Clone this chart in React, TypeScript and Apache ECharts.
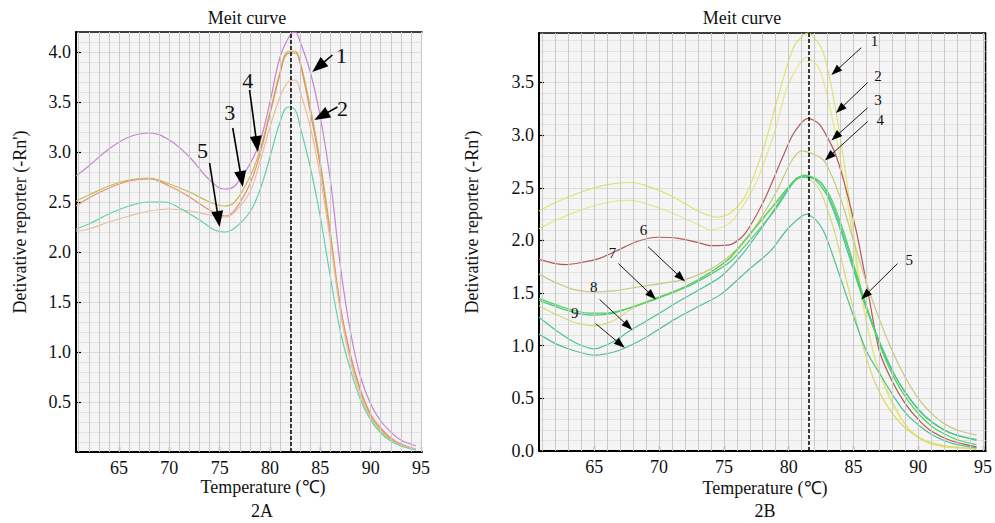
import React, { useEffect, useRef } from "react";
import * as echarts from "echarts";

const FONT = '"Liberation Serif", "Times New Roman", serif';

// ---------- Tick labels ----------
const xTickValues = [65, 70, 75, 80, 85, 90, 95];
const leftYTickValues = [0.5, 1.0, 1.5, 2.0, 2.5, 3.0, 3.5, 4.0];
const rightYTickValues = [0.0, 0.5, 1.0, 1.5, 2.0, 2.5, 3.0, 3.5];

// ---------- Melt temperatures (dashed lines) ----------
const leftMeltTemp = 82.05;
const rightMeltTemp = 81.55;

// ---------- Panel 2A curves [temperature, -Rn'] ----------
const leftCurve1 = [[60.73,2.76],[62,2.86],[64,3.03],[66,3.15],[68,3.19],[70,3.12],[72,2.95],[74,2.72],[75.5,2.63],[76.5,2.66],[78,2.88],[79,3.1],[80,3.5],[81,3.95],[82,4.17],[82.5,4.2],[83,4.1],[84,3.8],[85,3.35],[86,2.72],[87,1.85],[88,1.2],[89,0.75],[90,0.48],[91,0.31],[92,0.2],[93,0.12],[94.5,0.06]];
const leftCurve2 = [[60.73,2.51],[62,2.57],[64,2.66],[66,2.72],[68,2.74],[70,2.68],[72,2.6],[74,2.5],[75.5,2.46],[76.5,2.5],[78,2.75],[79,3.02],[80,3.4],[81,3.8],[81.7,4.0],[82.5,4.01],[83,3.9],[84,3.45],[85,2.9],[86,2.2],[87,1.45],[88,0.95],[89,0.6],[90,0.36],[91,0.22],[92,0.13],[93,0.07],[94.5,0.03]];
const leftCurve3 = [[60.73,2.46],[62,2.54],[64,2.64],[66,2.71],[68,2.73],[70,2.66],[72,2.55],[74,2.42],[75.5,2.36],[76.5,2.42],[78,2.68],[79,2.98],[80,3.38],[81,3.78],[81.7,3.98],[82.5,3.99],[83,3.88],[84,3.4],[85,2.85],[86,2.15],[87,1.45],[88,0.97],[89,0.62],[90,0.38],[91,0.24],[92,0.14],[93,0.08],[94.5,0.03]];
const leftCurve4 = [[60.73,2.21],[62,2.23],[64,2.3],[66,2.36],[68,2.41],[70,2.43],[72,2.41],[74,2.37],[75.5,2.35],[76.5,2.4],[78,2.6],[79,2.9],[80,3.25],[81,3.55],[81.8,3.7],[82.5,3.72],[83,3.6],[84,3.25],[85,2.75],[86,2.1],[87,1.4],[88,0.9],[89,0.56],[90,0.34],[91,0.2],[92,0.12],[93,0.07],[94.5,0.03]];
const leftCurve5 = [[60.73,2.23],[62,2.28],[64,2.38],[66,2.46],[68,2.5],[69.5,2.5],[71,2.44],[73,2.32],[74.5,2.22],[75.5,2.2],[76.5,2.24],[78,2.4],[79,2.62],[80,2.95],[81,3.3],[81.8,3.45],[82.5,3.42],[83,3.25],[84,2.85],[85,2.35],[86,1.75],[87,1.2],[88,0.82],[89,0.52],[90,0.32],[91,0.19],[92,0.11],[93,0.06],[94.5,0.02]];
const leftColors = ["#c883d2", "#cbb94e", "#e2906f", "#ebbd9c", "#63d2ab"];

// ---------- Panel 2B curves ----------
const rightCurve1 = [[60.73,2.28],[62,2.36],[64,2.46],[66,2.53],[67.7,2.55],[69,2.52],[71,2.42],[73,2.28],[74.5,2.22],[75.5,2.26],[76.6,2.41],[78,2.85],[79.1,3.33],[80.4,3.84],[81.5,3.97],[82.6,3.81],[83.5,3.33],[84.5,2.55],[85.5,1.6],[86.5,0.95],[87.5,0.6],[88.5,0.35],[89.5,0.18],[90.5,0.09],[92,0.04],[94.5,0.02]];
const rightCurve2 = [[60.73,2.11],[62,2.19],[64,2.29],[66,2.36],[67.7,2.38],[69,2.35],[71,2.26],[73,2.15],[74,2.1],[75.5,2.17],[77.3,2.5],[78.9,3.02],[79.9,3.46],[81.4,3.74],[82.4,3.62],[83.5,3.08],[84.5,2.4],[85.5,1.55],[86.5,0.95],[87.5,0.58],[88.5,0.34],[89.5,0.18],[90.5,0.1],[92,0.05],[94.5,0.02]];
const rightCurve3 = [[60.73,1.82],[62,1.78],[62.8,1.77],[64,1.79],[65.4,1.83],[66.7,1.9],[68.3,1.99],[69.9,2.03],[71.5,2.02],[73,1.98],[74,1.95],[75.5,1.96],[76.6,2.06],[78.1,2.38],[79.5,2.78],[80.4,3.02],[81.5,3.16],[82.4,3.1],[83.7,2.79],[85.2,2.1],[86.2,1.46],[87,0.95],[88,0.66],[89,0.45],[90,0.3],[91,0.19],[92.5,0.1],[94.5,0.04]];
const rightCurve4 = [[60.73,1.68],[62,1.6],[63.5,1.53],[65,1.51],[66.5,1.52],[68.5,1.56],[72,1.63],[74,1.73],[75.5,1.86],[77,2.05],[79,2.45],[80.2,2.75],[81,2.85],[82.7,2.76],[84,2.4],[85,2.0],[86,1.6],[87,1.25],[88,0.95],[89,0.7],[90,0.5],[91,0.36],[92,0.26],[93,0.2],[94.5,0.15]];
const rightCurve5 = [[60.73,1.43],[62.3,1.36],[64,1.3],[65,1.29],[66.5,1.31],[68,1.37],[69.7,1.44],[72,1.55],[74,1.68],[75.5,1.8],[77,2.0],[79,2.3],[80.5,2.57],[81.3,2.61],[82.5,2.55],[83.5,2.3],[84.5,1.95],[85.5,1.55],[86.5,1.2],[87.5,0.9],[88.5,0.65],[89.5,0.47],[90.5,0.33],[91.5,0.24],[92.5,0.17],[94.5,0.1]];
const rightCurve6 = [[60.73,1.38],[62,1.3],[63.5,1.22],[65,1.19],[66.5,1.24],[68,1.36],[69.5,1.44],[72,1.56],[74,1.7],[75.5,1.83],[77,2.05],[79,2.35],[80.5,2.58],[81.2,2.6],[82.3,2.5],[83.5,2.1],[84.5,1.6],[85.5,1.1],[86.5,0.7],[87.5,0.45],[88.5,0.28],[89.5,0.17],[90.5,0.1],[92,0.05],[94.5,0.02]];
const rightCurve7 = [[60.73,1.27],[62,1.15],[63.5,1.03],[65,0.97],[66.5,1.04],[67.7,1.14],[69.5,1.27],[71.5,1.42],[73.5,1.56],[74.8,1.66],[76.5,1.88],[78.5,2.22],[80,2.5],[81,2.6],[82,2.58],[83,2.42],[84,2.1],[85,1.72],[86,1.35],[87,1.03],[88,0.76],[89,0.56],[90,0.4],[91,0.28],[92,0.2],[93,0.15],[94.5,0.11]];
const rightCurve8 = [[60.73,1.11],[62,1.02],[63.5,0.95],[65.1,0.91],[66.5,0.94],[67.4,0.98],[69,1.08],[71.2,1.25],[73,1.37],[74.8,1.49],[76.8,1.71],[78.6,1.9],[80,2.12],[81.4,2.25],[82.2,2.18],[82.9,2.03],[84.5,1.46],[86,0.95],[87.3,0.68],[88.2,0.5],[89.1,0.35],[90,0.25],[91,0.16],[92,0.1],[93,0.06],[94.5,0.03]];
const rightCurve9 = [[60.73,1.45],[62.5,1.37],[64.5,1.31],[66,1.31],[68,1.37],[70,1.46],[72,1.56],[74,1.7],[75.5,1.84],[77,2.06],[79,2.36],[80.5,2.58],[81.2,2.62],[82.2,2.58],[83.2,2.42],[84.2,2.1],[85.2,1.7],[86.2,1.3],[87.2,0.95],[88.2,0.68],[89.2,0.48],[90.2,0.33],[91.2,0.22],[92.2,0.15],[93.2,0.1],[94.5,0.06]];
const rightColors = ["#e0e26c", "#e4e78a", "#b5585a", "#c9c77c", "#4fc58c", "#d6db6a", "#45c78a", "#52bf92", "#4fd35a"];

// ---------- Annotations: arrows [x1, y1, x2(tip), y2(tip)] and labels [text, x, y] ----------
const leftArrows = [
  [86.2, 3.97, 84.2, 3.8],
  [86.7, 3.45, 84.4, 3.32],
  [76.3, 3.24, 77.3, 2.65],
  [77.97, 3.62, 78.8, 3.0],
  [74.0, 2.89, 75.0, 2.25],
];
const leftLabels = [
  ["1", 87.1, 3.97],
  ["2", 87.2, 3.44],
  ["3", 76.0, 3.4],
  ["4", 77.8, 3.72],
  ["5", 73.3, 3.02],
];
const rightArrows = [
  [85.6, 3.83, 83.3, 3.57],
  [86.1, 3.5, 83.65, 3.21],
  [86.1, 3.26, 83.3, 2.95],
  [86.1, 3.13, 82.8, 2.76],
  [88.4, 1.78, 85.6, 1.44],
  [69.15, 1.94, 72.0, 1.61],
  [66.86, 1.78, 69.76, 1.44],
  [65.4, 1.44, 67.93, 1.15],
  [65.1, 1.21, 67.35, 0.98],
];
const rightLabels = [
  ["1", 86.63, 3.89],
  ["2", 86.9, 3.56],
  ["3", 86.9, 3.33],
  ["4", 87.07, 3.14],
  ["5", 89.3, 1.81],
  ["6", 68.8, 2.1],
  ["7", 66.4, 1.88],
  ["8", 64.95, 1.56],
  ["9", 63.48, 1.31],
];

const leftCurves = [leftCurve1, leftCurve2, leftCurve3, leftCurve4, leftCurve5];
const rightCurves = [rightCurve1, rightCurve2, rightCurve3, rightCurve4, rightCurve5, rightCurve6, rightCurve7, rightCurve8, rightCurve9];

function gridLineValues(from: number, to: number): number[] {
  const out: number[] = [];
  for (let v = from; v <= to; v += 1) out.push(v);
  return out;
}

export default function App() {
  const ref = useRef<HTMLDivElement>(null);

  useEffect(() => {
    document.body.style.margin = "0";
    if (!ref.current) return;
    const chart = echarts.init(ref.current, null, { renderer: "svg" });

    const axisLabelStyle = { color: "#111", fontSize: 18, fontFamily: FONT };

    const makeX = (gridIndex: number, min: number, max: number) => ({
      type: "value",
      gridIndex,
      min,
      max,
      axisLine: { show: true, onZero: false, lineStyle: { color: "#000", width: 2 } },
      axisTick: { show: true, inside: true, length: 5, customValues: xTickValues, lineStyle: { color: "#000", width: 1.2 } },
      axisLabel: { ...axisLabelStyle, margin: 7, customValues: xTickValues, formatter: (v: number) => String(v) },
      splitLine: { show: false },
    });

    const makeY = (gridIndex: number, max: number, ticks: number[]) => ({
      type: "value",
      gridIndex,
      min: 0,
      max,
      interval: 0.5,
      axisLine: { show: true, onZero: false, lineStyle: { color: "#000", width: 2 } },
      axisTick: { show: true, inside: true, length: 5, customValues: ticks, lineStyle: { color: "#000", width: 1.2 } },
      axisLabel: { ...axisLabelStyle, margin: 5, customValues: ticks, formatter: (v: number) => v.toFixed(1) },
      splitLine: { show: true, lineStyle: { color: "#dcdcdc", width: 1 } },
      minorTick: { show: false, splitNumber: 5 },
      minorSplitLine: { show: true, lineStyle: { color: "#e2e2e2", width: 1 } },
    });

    const gridSeries = (ai: number, xs: number[]) => ({
      type: "line",
      xAxisIndex: ai,
      yAxisIndex: ai,
      data: [],
      z: 1,
      silent: true,
      markLine: {
        silent: true,
        symbol: "none",
        label: { show: false },
        lineStyle: { color: "#c9c9c9", width: 1, type: "solid" },
        data: xs.map((v) => ({ xAxis: v })),
      },
    });

    const meltSeries = (ai: number, t: number) => ({
      type: "line",
      xAxisIndex: ai,
      yAxisIndex: ai,
      data: [],
      z: 4,
      silent: true,
      markLine: {
        silent: true,
        symbol: "none",
        label: { show: false },
        lineStyle: { color: "#000", width: 1.5, type: [4, 2] },
        data: [{ xAxis: t }],
      },
    });

    const curveSeries = (ai: number, data: number[][], color: string, smooth: number) => ({
      type: "line",
      xAxisIndex: ai,
      yAxisIndex: ai,
      data,
      showSymbol: false,
      symbol: "none",
      smooth,
      z: 3,
      lineStyle: { color, width: 1.2 },
    });

    const arrowSeries = (ai: number, arrows: number[][], lw: number, headLen: number, headHalf: number) => ({
      type: "custom",
      xAxisIndex: ai,
      yAxisIndex: ai,
      z: 5,
      silent: true,
      clip: false,
      encode: { x: [0, 2], y: [1, 3] },
      data: arrows,
      renderItem: (params: any, api: any) => {
        const p1 = api.coord([api.value(0), api.value(1)]);
        const p2 = api.coord([api.value(2), api.value(3)]);
        const dx = p2[0] - p1[0];
        const dy = p2[1] - p1[1];
        const len = Math.sqrt(dx * dx + dy * dy) || 1;
        const ux = dx / len;
        const uy = dy / len;
        const bx = p2[0] - ux * headLen;
        const by = p2[1] - uy * headLen;
        const nx = -uy * headHalf;
        const ny = ux * headHalf;
        return {
          type: "group",
          children: [
            { type: "line", shape: { x1: p1[0], y1: p1[1], x2: bx + ux * 1, y2: by + uy * 1 }, style: { stroke: "#000", lineWidth: lw } },
            { type: "polygon", shape: { points: [[p2[0], p2[1]], [bx + nx, by + ny], [bx - nx, by - ny]] }, style: { fill: "#000" } },
          ],
        };
      },
    });

    const labelSeries = (ai: number, labels: any[][], fs: number) => ({
      type: "line",
      xAxisIndex: ai,
      yAxisIndex: ai,
      data: [],
      z: 6,
      silent: true,
      markPoint: {
        silent: true,
        symbol: "rect",
        symbolSize: 1,
        itemStyle: { color: "rgba(0,0,0,0)" },
        label: { show: true, position: "inside", formatter: "{b}", color: "#111", fontSize: fs, fontFamily: FONT },
        data: labels.map(([t, x, y]) => ({ name: t, coord: [x, y] })),
      },
    });

    const series: any[] = [
      gridSeries(0, gridLineValues(61, 95)),
      gridSeries(1, gridLineValues(61, 95)),
      ...leftCurves.map((c, i) => curveSeries(0, c, leftColors[i], 0.4)),
      ...rightCurves.map((c, i) => curveSeries(1, c, rightColors[i], 0.25)),
      meltSeries(0, leftMeltTemp),
      meltSeries(1, rightMeltTemp),
      arrowSeries(0, leftArrows, 1.6, 16, 6),
      arrowSeries(1, rightArrows, 0.9, 11, 4),
      labelSeries(0, leftLabels, 22),
      labelSeries(1, rightLabels, 15),
    ];

    const txt = (text: string, x: number, y: number, rotation = 0) => ({
      type: "text",
      x,
      y,
      rotation,
      silent: true,
      style: { text, fill: "#111", fontSize: 18, fontFamily: FONT, textAlign: "center", textVerticalAlign: "middle" },
    });

    chart.setOption({
      animation: false,
      backgroundColor: "#ffffff",
      grid: [
        { left: 76, top: 32, width: 346, height: 420, show: true, backgroundColor: "#f5f5f5", borderWidth: 0 },
        { left: 539, top: 33, width: 449, height: 418, show: true, backgroundColor: "#f5f5f5", borderColor: "#000", borderWidth: 1.5 },
      ],
      xAxis: [
        makeX(0, 60.73, 95.1),
        makeX(1, 60.73, 95.2),
        {
          type: "value", gridIndex: 0, position: "top", min: 60.73, max: 95.1,
          axisLine: { show: true, onZero: false, lineStyle: { color: "#000", width: 1.5 } },
          axisTick: { show: false }, axisLabel: { show: false }, splitLine: { show: false },
        },
      ],
      yAxis: [makeY(0, 4.2, leftYTickValues), makeY(1, 3.97, rightYTickValues)],
      series,
      graphic: [
        txt("Meit curve", 247, 18),
        txt("Meit curve", 742, 18),
        txt("Temperature (\u2103)", 263, 487),
        txt("Temperature (\u2103)", 765, 488),
        txt("2A", 262, 511),
        txt("2B", 765, 511),
        txt("Detivative reporter (-Rn')", 20, 222, Math.PI / 2),
        txt("Detivative reporter (-Rn')", 472, 222, Math.PI / 2),
      ],
    });

    return () => chart.dispose();
  }, []);

  return <div ref={ref} style={{ width: 995, height: 523 }} />;
}
